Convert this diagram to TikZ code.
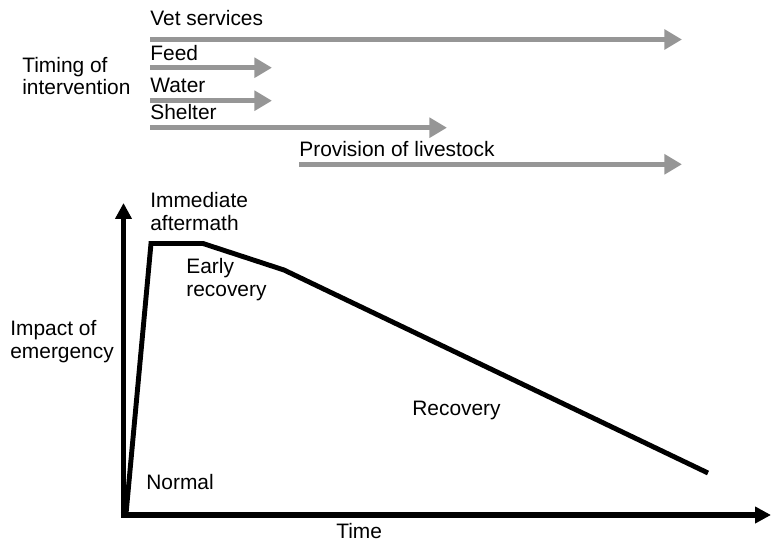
\documentclass[tikz,border=0pt]{standalone}
\usepackage{fontspec}
\setmainfont{Liberation Sans}
\usepackage{tikz}
\usetikzlibrary{arrows.meta,positioning}
\definecolor{timinggray}{RGB}{150,150,150}

\begin{document}
\begin{tikzpicture}[x=0.02cm,y=-0.02cm,line cap=butt,line join=miter,
  lbl/.style={anchor=base west,inner sep=0pt,align=left,
    font=\fontsize{11.9}{12.6}\selectfont},
  bar/.style={timinggray,line width=2.8pt,
    -{Triangle[length=10pt,width=11pt]}},
  axis/.style={black,line width=3pt,-{Triangle[length=9pt,width=9pt]}}]
\useasboundingbox (0,0) rectangle (771,544);
% Zeitpunkte der Hilfsmaßnahmen
\node[lbl] (timing) at (22,95) {Timing of\\intervention};
\node[lbl] (vet) at (150,26) {Vet services};
\node[lbl] (feed) at (150,61) {Feed};
\node[lbl] (water) at (150,92) {Water};
\node[lbl] (shelter) at (150,120) {Shelter};
\node[lbl] (livestock) at (299,156) {Provision of livestock};
\coordinate (vet-a) at (150,39.5);   \coordinate (vet-b) at (682,39.5);
\coordinate (feed-a) at (150,67.7);  \coordinate (feed-b) at (272,67.7);
\coordinate (water-a) at (150,100.7);\coordinate (water-b) at (272,100.7);
\coordinate (shelter-a) at (150,127.7);\coordinate (shelter-b) at (447,127.7);
\coordinate (livestock-a) at (299,164.3);\coordinate (livestock-b) at (682,164.3);
\draw[bar] (vet-a)--(vet-b);
\draw[bar] (feed-a)--(feed-b);
\draw[bar] (water-a)--(water-b);
\draw[bar] (shelter-a)--(shelter-b);
\draw[bar] (livestock-a)--(livestock-b);
% Verlauf der Notlage
\coordinate (origin) at (123.5,515);
\coordinate (ytip) at (123.5,203);
\coordinate (xtip) at (771,515);
\draw[axis] ([yshift=-1.5pt]origin)--(ytip);
\draw[axis] ([xshift=-1.5pt]origin)--(xtip);
\coordinate (onset) at (151,243.5);
\coordinate (peak) at (203,243.5);
\coordinate (bend) at (284,270);
\coordinate (tail) at (708,473);
\draw[line width=2.8pt] (126,514)--(onset)--(peak)--(bend)--(tail);
\node[lbl] (immediate) at (150,230) {Immediate\\aftermath};
\node[lbl] (early) at (186,296) {Early\\recovery};
\node[lbl] (impact) at (10,358) {Impact of\\emergency};
\node[lbl] (recovery) at (412,415) {Recovery};
\node[lbl] (normal) at (146,489) {Normal};
\node[lbl] (time) at (336,538) {Time};
\end{tikzpicture}
\end{document}
